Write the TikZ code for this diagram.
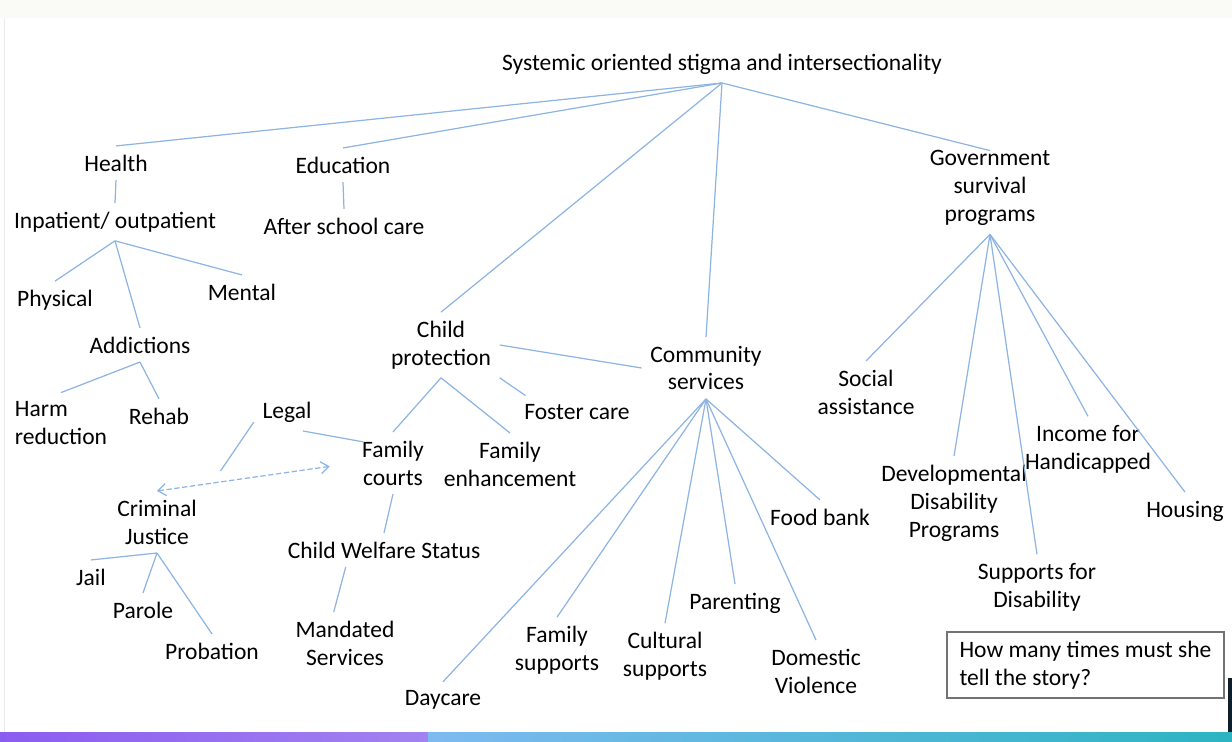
\documentclass[tikz,border=0pt]{standalone}
\usepackage{fontspec}
\setmainfont{Carlito}
\usetikzlibrary{arrows.meta}
\definecolor{C0}{RGB}{141,180,226}
\definecolor{C1}{RGB}{139,92,240}
\definecolor{C2}{RGB}{162,130,240}
\definecolor{C3}{RGB}{125,186,240}
\definecolor{C4}{RGB}{44,180,194}
\definecolor{C5}{RGB}{14,30,42}
\definecolor{C6}{RGB}{250,251,247}

\begin{document}
\begin{tikzpicture}[x=0.02cm,y=-0.02cm,
  every node/.style={font=\fontsize{13.4}{15.9}\selectfont,inner sep=0pt,outer sep=5pt,align=center},
  link/.style={color=C0,line width=0.7pt},
  storybox/.style={draw=black!55,line width=0.7pt,align=left,
    minimum width=5.54cm,minimum height=1.32cm,inner sep=0pt,outer sep=0pt}]

  % Page.
  \useasboundingbox (0,0) rectangle (1232,742);
  \fill[C6] (0,0) rectangle (1232,18);
  \draw[black!8] (4,18) -- (4,733);

  % Top of the tree.
  \node (root) at (722,64) {Systemic oriented stigma and intersectionality};
  \node (health) at (116,163) {Health};
  \node (educ) at (343,165) {Education};
  \node (childprot) at (441,345) {Child\\protection};
  \node (community) at (706,368) {Community\\services};
  \node (gov) at (990,188) {Government\\survival\\programs};
  \foreach \n in {health,educ,childprot,community}
    \draw[link] (root.south) -- (\n.north);
  \draw[link] (root.south) -- ([yshift=-1.8mm]gov.north);

  % Health branch.
  \node (inpatient) at (115,222) {Inpatient/ outpatient};
  \node (physical) at (55,300) {Physical};
  \node (mental) at (242,292) {Mental};
  \node (addictions) at (140,345) {Addictions};
  \node[align=left] (harm) at (61,423) {Harm\\reduction};
  \node (rehab) at (159,416) {Rehab};
  \draw[link] (health.south) -- (inpatient.north);
  \foreach \n in {physical,mental,addictions}
    \draw[link] (inpatient.south) -- (\n.north);
  \foreach \n in {harm,rehab}
    \draw[link] (addictions.south) -- (\n.north);

  % Education branch.
  \node (afterschool) at (344,226) {After school care};
  \draw[link] (educ.south) -- (afterschool.north);

  % Legal and criminal justice.
  \node (legal) at (287,412) {Legal};
  \node (crimjust) at (157,522) {Criminal\\Justice};
  \node (jail) at (91,577) {Jail};
  \node (parole) at (143,610) {Parole};
  \node (probation) at (212,651) {Probation};
  \foreach \n in {jail,parole,probation}
    \draw[link] (crimjust.south) -- (\n.north);

  % Child protection branch.
  \node (foster) at (577,412) {Foster care};
  \node (famcourts) at (393,463) {Family\\courts};
  \node (famenh) at (510,464) {Family\\enhancement};
  \node (welfare) at (384,550) {Child Welfare Status};
  \node (mandated) at (345,643) {Mandated\\Services};
  \foreach \n in {famcourts,famenh}
    \draw[link] (childprot.south) -- (\n.north);
  \draw[link] (childprot.south east) -- ([xshift=2mm]foster.north west);
  \draw[link] (childprot.east) -- (community.west);
  \draw[link] (famcourts.south) -- (welfare.north);
  \draw[link] (welfare.204) -- (mandated.110);
  \draw[link] (legal.197) -- ([xshift=3mm,yshift=4mm]crimjust.north east);
  \draw[link] (legal.-50) -- ([xshift=2mm]famcourts.152);
  \draw[link,dash pattern=on 3pt off 1.5pt,{Straight Barb[length=1.6mm,width=2.4mm]}-{Straight Barb[length=1.6mm,width=2.4mm]},shorten >=13.6pt]
    (crimjust.north) -- (famcourts.west);

  % Community services branch.
  \node (daycare) at (443,700) {Daycare};
  \node (famsup) at (557,650) {Family\\supports};
  \node (cultsup) at (665,656) {Cultural\\supports};
  \node (parenting) at (735,603) {Parenting};
  \node (domviol) at (816,671) {Domestic\\Violence};
  \node (foodbank) at (820,517) {Food bank};
  \foreach \n in {daycare,famsup,cultsup,parenting,domviol,foodbank}
    \draw[link] (community.south) -- (\n.north);

  % Government programs branch.
  \node (social) at (866,392) {Social\\assistance};
  \node (devdis) at (954,503) {Developmental\\Disability\\Programs};
  \node (supdis) at (1037,587) {Supports for\\Disability};
  \node (income) at (1088,449) {Income for\\Handicapped};
  \node (housing) at (1185,511) {Housing};
  \foreach \n in {social,devdis,supdis,income,housing}
    \draw[link] (gov.south) -- (\n.north);

  % Question box.
  \node[storybox] (story) at (1085.5,665) {How many times must she\\tell the story?};

  % Bottom strip.
  \shade[left color=C1,right color=C2] (0,733) rectangle (428,742);
  \shade[left color=C3,right color=C4] (428,733) rectangle (1232,742);
  \fill[C5] (1228,678) rectangle (1232,732);

\end{tikzpicture}
\end{document}
